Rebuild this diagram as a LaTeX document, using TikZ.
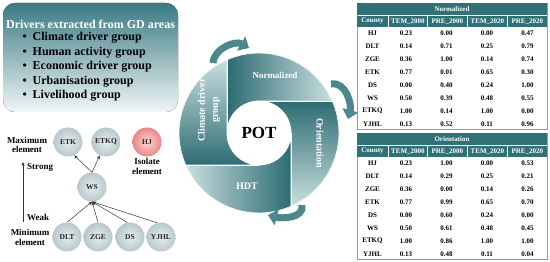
\documentclass[tikz,border=0pt]{standalone}
\usepackage{fontspec}
\setmainfont{Liberation Serif}
\usetikzlibrary{arrows.meta}
\definecolor{tealD}{HTML}{2D6C73}
\definecolor{tealL}{HTML}{C9DFE0}
\definecolor{hdrC}{HTML}{2F7176}
\definecolor{boxTop}{HTML}{3A7A83}
\definecolor{boxBot}{HTML}{F0F6F6}
\definecolor{nodeIn}{HTML}{E6ECEE}
\definecolor{nodeOut}{HTML}{B8C8CC}
\definecolor{hjIn}{HTML}{FBD6D6}
\definecolor{hjOut}{HTML}{EC8585}
\definecolor{arrC}{HTML}{4C878E}
\definecolor{gridC}{HTML}{9A9A9A}
\newcommand\mktable[4]{%
 \begin{scope}[yshift=-#1pt]
  \draw[gridC, fill=white, line width=0.5pt] (357,-3) rectangle (547,-129.5);
  \fill[hdrC] (357,-3) rectangle (547,-15);
  \node[thead] (#3-title) at (452,-9) {#2};
  \foreach \xa/\xb/\hh [count=\j] in {357/388/County, 388.8/427/TEM\_2000, 427.8/467/PRE\_2000, 467.8/507/TEM\_2020, 507.8/547/PRE\_2020} {
    \fill[hdrC] (\xa,-15.8) rectangle (\xb,-27);
    \node[thead] (#3-h\j) at ({(\xa+\xb)/2},-21.4) {\hh};
  }
  \foreach \cn/\va/\vb/\vc/\vd [count=\i] in {#4} {
    \node[tcell] (#3-r\i-c0) at (372.5,{-33-13*(\i-1)}) {\cn};
    \node[tcell] (#3-r\i-c1) at (406,{-33-13*(\i-1)}) {\va};
    \node[tcell] (#3-r\i-c2) at (446.5,{-33-13*(\i-1)}) {\vb};
    \node[tcell] (#3-r\i-c3) at (487,{-33-13*(\i-1)}) {\vc};
    \node[tcell] (#3-r\i-c4) at (527.5,{-33-13*(\i-1)}) {\vd};
  }
 \end{scope}
}
\begin{document}
\begin{tikzpicture}[x=1pt,y=1pt,
  every node/.style={font=\bfseries},
  hnode/.style={circle, minimum size=29pt, inner sep=0pt, inner color=nodeIn, outer color=nodeOut, font=\bfseries\fontsize{7.5}{8}\selectfont, text=black!85},
  lbl/.style={font=\bfseries\fontsize{9}{9.5}\selectfont, align=center, inner sep=0pt},
  harr/.style={draw=black!80, line width=0.5pt, -{Stealth[length=4pt,width=3pt]}},
  bladetxt/.style={text=white, font=\bfseries\fontsize{10}{13}\selectfont, align=center, inner sep=0pt},
  bigarr/.style={line width=7pt, draw=arrC, -{Triangle[length=9pt,width=16pt]}},
  blade/.style={draw=white, line width=0.8pt},
  tcell/.style={font=\bfseries\fontsize{7}{8}\selectfont, inner sep=0pt},
  thead/.style={tcell, text=white},
  btxt/.style={font=\bfseries\fontsize{12}{14}\selectfont, inner sep=0pt},
]
\useasboundingbox (0,0) rectangle (550,-262);
% ---------- drivers box
\fill[top color=boxTop, bottom color=boxBot, rounded corners=12pt] (3,-3) rectangle (178,-112);
\node[btxt, text=white] (title) at (90.5,-24) {Drivers extracted from GD areas};
\foreach \t/\yy [count=\i] in {Climate driver group/38, Human activity group/52.5, Economic driver group/67, Urbanisation group/81.5, Livelihood group/96}
  \node[btxt, anchor=west] (b\i) at (22.5,-\yy) {\makebox[10pt][l]{\textbullet}\t};
% ---------- Hasse diagram
\node[hnode] (ETK) at (68,-142) {ETK};
\node[hnode] (ETKQ) at (106,-142) {ETKQ};
\node[hnode, inner color=hjIn, outer color=hjOut] (HJ) at (147,-142) {HJ};
\node[hnode] (WS) at (92,-187) {WS};
\node[hnode] (DLT) at (67,-237) {DLT};
\node[hnode] (ZGE) at (98,-237) {ZGE};
\node[hnode] (DS) at (130,-237) {DS};
\node[hnode] (YJHL) at (161,-237) {YJHL};
\draw[harr] (WS.north) -- (ETK.-65);
\draw[harr] (WS.north) -- (ETKQ.-115);
\draw[harr] (DLT.north) -- (WS.south);
\draw[harr] (ZGE.north) -- (WS.south);
\draw[harr] (DS.100) -- (WS.south);
\draw[harr] (YJHL.105) -- (WS.south);
\coordinate (wk) at (23,-222);
\coordinate (st) at (23,-162);
\draw[harr] (wk) -- (st);
\node[lbl] (maxl) at (27,-145) {Maximum\\element};
\node[lbl, anchor=west] (strong) at (27,-168) {Strong};
\node[lbl, anchor=west] (weak) at (27,-217) {Weak};
\node[lbl] (minl) at (30,-237.5) {Minimum\\element};
\node[lbl] (isol) at (147,-166.5) {Isolate\\element};
% ---------- cycle
\fill[blade, left color=tealD, middle color=tealD, right color=tealL]
  (227,-133) -- (227,-59.7) arc[start angle=113.6, end angle=23.6, radius=80] -- (259,-101) arc[start angle=90, end angle=180, radius=32] -- cycle;
\fill[blade, top color=tealD, middle color=tealD, bottom color=tealL]
  (259,-101) -- (332.3,-101) arc[start angle=23.6, end angle=-66.4, radius=80] -- (291,-133) arc[start angle=0, end angle=90, radius=32] -- cycle;
\fill[blade, right color=tealD, middle color=tealD, left color=tealL]
  (291,-133) -- (291,-206.3) arc[start angle=-66.4, end angle=-156.4, radius=80] -- (259,-165) arc[start angle=-90, end angle=0, radius=32] -- cycle;
\fill[blade, bottom color=tealD, middle color=tealD, top color=tealL]
  (259,-165) -- (185.7,-165) arc[start angle=-156.4, end angle=-246.4, radius=80] -- (227,-133) arc[start angle=180, end angle=270, radius=32] -- cycle;
\draw[blade] (227,-133) -- (227,-59.7);
\draw[blade] (259,-101) -- (332.3,-101);
\draw[blade] (291,-133) -- (291,-206.3);
\draw[blade] (259,-165) -- (185.7,-165);
\node[circle, fill=white, minimum size=64pt, inner sep=0pt, font=\bfseries\fontsize{17}{18}\selectfont] (POT) at (259,-133) {POT};
\node[bladetxt, font=\bfseries\fontsize{9}{10}\selectfont] (norm) at (275,-75) {Normalized};
\node[bladetxt, rotate=-90] (orient) at (320,-143) {Orientation};
\node[bladetxt] (hdt) at (247,-186) {HDT};
\node[bladetxt, rotate=90] (clim) at (209,-110) {Climate driver\\group};
% curved arrows
\coordinate (a1s) at (213,-63);
\coordinate (a1e) at (249,-48);
\coordinate (a2s) at (331,-84);
\coordinate (a2e) at (348,-119);
\coordinate (a3s) at (302,-205);
\coordinate (a3e) at (268,-215);
\draw[bigarr] (a1s) to[out=85, in=150] (a1e);
\draw[bigarr] (a2s) to[out=10, in=75] (a2e);
\draw[bigarr] (a3s) to[out=-80, in=-15] (a3e);
% ---------- tables
\mktable{0}{Normalized}{N}{HJ/0.23/0.00/0.00/0.47, DLT/0.14/0.71/0.25/0.79, ZGE/0.36/1.00/0.14/0.74, ETK/0.77/0.01/0.65/0.30, DS/0.00/0.40/0.24/1.00, WS/0.50/0.39/0.48/0.55, ETKQ/1.00/0.14/1.00/0.00, YJHL/0.13/0.52/0.11/0.96}
\mktable{130}{Orientation}{O}{HJ/0.23/1.00/0.00/0.53, DLT/0.14/0.29/0.25/0.21, ZGE/0.36/0.00/0.14/0.26, ETK/0.77/0.99/0.65/0.70, DS/0.00/0.60/0.24/0.00, WS/0.50/0.61/0.48/0.45, ETKQ/1.00/0.86/1.00/1.00, YJHL/0.13/0.48/0.11/0.04}
\end{tikzpicture}
\end{document}
